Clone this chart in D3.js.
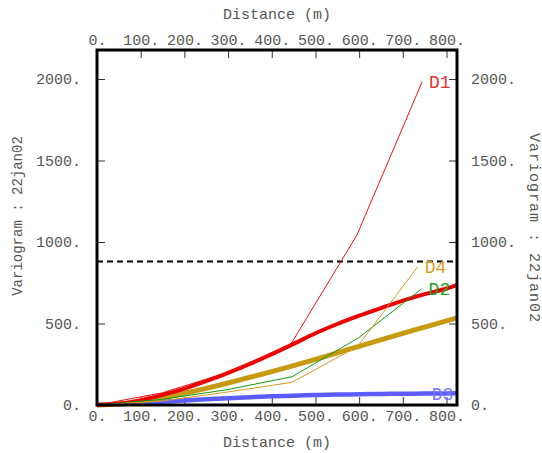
<!DOCTYPE html>
<html>
<head>
<meta charset="utf-8">
<script src="https://d3js.org/d3.v7.min.js"></script>
<style>
  body { margin: 0; background: #fff; }
  text { font-family: "Liberation Mono", "DejaVu Sans Mono", monospace; }
</style>
</head>
<body>
<div id="chart"></div>
<script>
// ===== experimental variograms (distance m, value) =====
var d1 = [[0,0],[150,75],[300,200],[443,370],[595,1043],[744,1982]];
var d2 = [[0,0],[150,35],[300,95],[447,174],[598,411],[743,712]];
var d3data = [[0,0],[150,18],[300,40],[450,56],[600,66],[750,70]];
var d4 = [[0,0],[150,25],[300,80],[446,139],[596,358],[734,848]];

// ===== fitted models =====
var modelDist = [0,50,100,150,200,250,300,350,400,450,500,550,600,650,700,750,800,824];
var modelRed  = [0,8,30,62,100,147,197,252,312,375,440,497,548,595,640,680,715,735];
var modelGold = [0,6,22,45,72,102,135,170,205,242,280,320,360,400,440,478,516,535];
var modelBlue = [0,5,12,20,28,35,42,48,53,57,61,64,66,68,69,70,71,72];

var sill = 880;
var xTicks = [0,100,200,300,400,500,600,700,800];
var yTicks = [0,500,1000,1500,2000];

var W = 542, H = 453;
var mLeft = 97, mRight = 457, mTop = 50, mBottom = 405;
var textColor = "#555";

var svg = d3.select("#chart").append("svg")
    .attr("width", W)
    .attr("height", H)

var x = d3.scaleLinear().domain([0, 824]).range([mLeft, mRight])
var y = d3.scaleLinear().domain([0, 2178]).range([mBottom, mTop])

var fmt = function(d){ return d + "." }

function styleAxis(g){
    g.select(".domain").remove()
    g.selectAll(".tick line").attr("stroke", "#333")
    g.selectAll(".tick text")
        .attr("fill", textColor)
        .attr("font-size", "15px")
        .attr("font-family", "Liberation Mono, monospace")
}

svg.append("g")
    .attr("transform", "translate(0," + mBottom + ")")
    .call(d3.axisBottom(x).tickValues(xTicks).tickFormat(fmt).tickSizeInner(-8).tickSizeOuter(0).tickPadding(5))
    .call(styleAxis)

svg.append("g")
    .attr("transform", "translate(0," + mTop + ")")
    .call(d3.axisTop(x).tickValues(xTicks).tickFormat(fmt).tickSizeInner(-8).tickSizeOuter(0).tickPadding(5))
    .call(styleAxis)

svg.append("g")
    .attr("transform", "translate(" + mLeft + ",0)")
    .call(d3.axisLeft(y).tickValues(yTicks).tickFormat(fmt).tickSizeInner(-8).tickSizeOuter(0).tickPadding(16))
    .call(styleAxis)

svg.append("g")
    .attr("transform", "translate(" + mRight + ",0)")
    .call(d3.axisRight(y).tickValues(yTicks).tickFormat(fmt).tickSizeInner(-8).tickSizeOuter(0).tickPadding(14))
    .call(styleAxis)

// axis titles
svg.append("text")
    .text("Distance (m)")
    .attr("x", (mLeft + mRight) / 2).attr("y", 19)
    .attr("text-anchor", "middle").attr("font-size", "15px").attr("fill", textColor)
svg.append("text")
    .text("Distance (m)")
    .attr("x", (mLeft + mRight) / 2).attr("y", 447)
    .attr("text-anchor", "middle").attr("font-size", "15px").attr("fill", textColor)
svg.append("text")
    .text("Variogram : 22jan02")
    .attr("transform", "translate(22,216) rotate(-90)")
    .attr("text-anchor", "middle").attr("font-size", "14px").attr("fill", textColor)
svg.append("text")
    .text("Variogram : 22jan02")
    .attr("transform", "translate(530,228) rotate(90)")
    .attr("text-anchor", "middle").attr("font-size", "15px").attr("fill", textColor)
    .attr("letter-spacing", "1px")

// sill
svg.append("line")
    .attr("x1", mLeft).attr("x2", mRight)
    .attr("y1", y(sill)).attr("y2", y(sill))
    .attr("stroke", "black").attr("stroke-width", 2)
    .attr("stroke-dasharray", "6,4")

var line = d3.line()
    .x(function(d){ return x(d[0]) })
    .y(function(d){ return y(d[1]) })

function model(vals){
    return modelDist.map(function(d, i){ return [d, vals[i]] })
}

var curve = d3.line()
    .x(function(d){ return x(d[0]) })
    .y(function(d){ return y(d[1]) })
    .curve(d3.curveMonotoneX)

// models (thick)
svg.append("path").attr("d", curve(model(modelBlue)))
    .attr("fill", "none").attr("stroke", "#5c5cff").attr("stroke-width", 4.5)
svg.append("path").attr("d", curve(model(modelGold)))
    .attr("fill", "none").attr("stroke", "#c89a10").attr("stroke-width", 5)
svg.append("path").attr("d", curve(model(modelRed)))
    .attr("fill", "none").attr("stroke", "#ee0000").attr("stroke-width", 4)

// experimental (thin)
var series = [
    {name:"D1", data:d1, color:"#ee1111", label:"#e83030"},
    {name:"D2", data:d2, color:"#109a10", label:"#22a022"},
    {name:"D3", data:d3data, color:"#5c5cff", label:"#7777ff"},
    {name:"D4", data:d4, color:"#d89a20", label:"#d8a020"}
]

series.forEach(function(s){
    svg.append("path").attr("d", line(s.data))
        .attr("fill", "none").attr("stroke", s.color).attr("stroke-width", 1)
    var last = s.data[s.data.length - 1]
    svg.append("text")
        .text(s.name)
        .attr("x", x(last[0]) + 7)
        .attr("y", y(last[1]) + 6)
        .attr("font-size", "18px")
        .attr("fill", s.label)
})

// frame
svg.append("rect")
    .attr("x", mLeft).attr("y", mTop)
    .attr("width", mRight - mLeft).attr("height", mBottom - mTop)
    .attr("fill", "none").attr("stroke", "black").attr("stroke-width", 3)
</script>
</body>
</html>
